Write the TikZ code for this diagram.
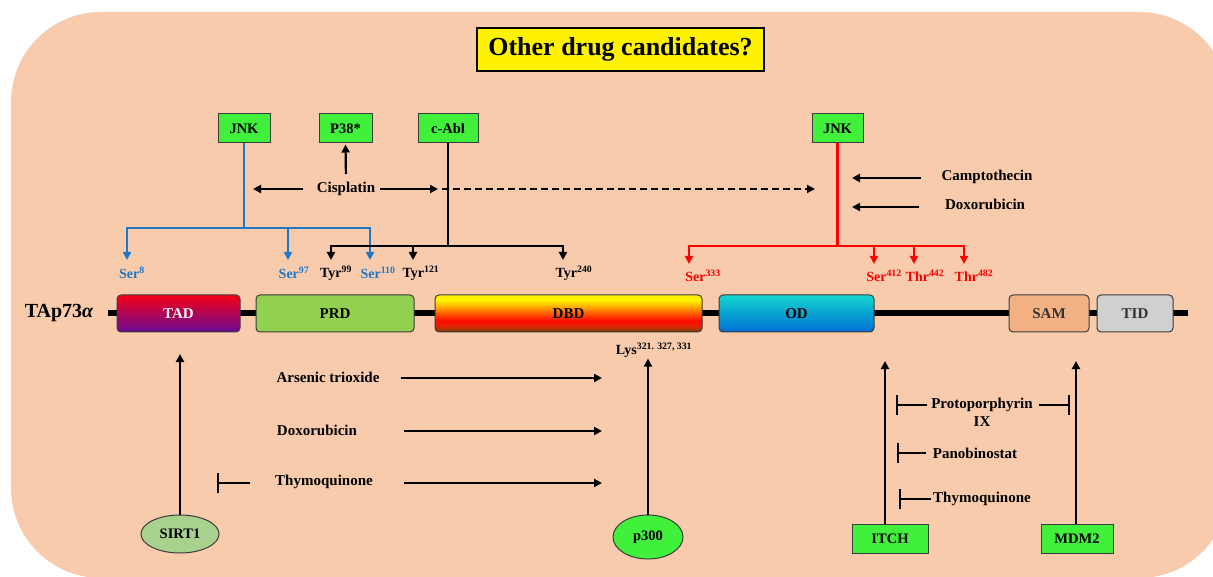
\documentclass[tikz,border=0pt]{standalone}
\usepackage{fontspec}
\setmainfont{Liberation Serif}
\usepackage{tikz}
\usetikzlibrary{arrows.meta, positioning, shapes.geometric}
\usepackage{xcolor}
\definecolor{Peach}{RGB}{248,203,173}
\definecolor{KinaseGreen}{RGB}{64,240,58}
\definecolor{SirtGreen}{RGB}{169,209,142}
\definecolor{PrdGreen}{RGB}{146,208,80}
\definecolor{SamOrange}{RGB}{244,177,131}
\definecolor{TidGray}{RGB}{208,208,208}
\definecolor{JnkBlue}{RGB}{30,120,200}
\definecolor{JnkRed}{RGB}{255,0,0}
\definecolor{BoxEdge}{RGB}{60,60,60}
\definecolor{TadTop}{RGB}{245,0,20}
\definecolor{TadMid}{RGB}{205,0,85}
\definecolor{TadBottom}{RGB}{105,10,150}
\definecolor{OdTop}{RGB}{18,214,205}
\definecolor{OdBottom}{RGB}{0,110,215}
\definecolor{DbdBrown}{RGB}{80,40,0}
\definecolor{DbdDark}{RGB}{160,60,0}
\definecolor{DbdDeep}{RGB}{225,35,0}
\definecolor{DbdRed}{RGB}{255,10,0}
\definecolor{DbdOrange}{RGB}{255,70,0}
\definecolor{DbdAmber}{RGB}{255,160,0}
\definecolor{DbdYellow}{RGB}{255,242,0}
\pgfdeclareverticalshading{dbd_shade}{100bp}{%
  color(0bp)=(DbdBrown); color(25bp)=(DbdBrown); color(28bp)=(DbdDark);%
  color(33bp)=(DbdDeep); color(40bp)=(DbdRed); color(48bp)=(DbdOrange);%
  color(58bp)=(DbdAmber); color(68bp)=(DbdYellow); color(100bp)=(DbdYellow)}
\tikzset{%
  domain_block/.style={%
    rectangle,%
    rounded corners=4pt,%
    draw=BoxEdge,%
    line width=1pt,%
    minimum height=37pt,%
    inner sep=0pt,%
    font={\fontsize{15}{17}\selectfont\bfseries},%
    align=center%
  },
  kinase_block/.style={%
    rectangle,%
    draw=BoxEdge,%
    fill=KinaseGreen,%
    line width=1pt,%
    minimum height=29pt,%
    inner sep=0pt,%
    font={\fontsize{14.5}{16}\selectfont\bfseries},%
  },
  enzyme_oval/.style={%
    ellipse,%
    draw=BoxEdge,%
    line width=1pt,%
    inner sep=0pt,%
    font={\fontsize{14.5}{16}\selectfont\bfseries},%
  },
  drug_label/.style={%
    inner sep=2pt,%
    font={\fontsize{15}{17}\selectfont\bfseries},%
  },
  site_label/.style={%
    inner sep=1pt,%
    font={\fontsize{14}{16}\selectfont\bfseries},%
  },
  signal_path/.style={%
    color=black,%
    line width=2.2pt,%
    line join=round,%
  },
  branch_path/.style={%
    line width=2.3pt,%
    line join=miter,%
  },
  arrow/.style={-{Triangle[length=8pt, width=8pt]}},
  inhibit/.style={-{Bar[width=20pt, line width=2.2pt]}},
}
\begin{document}
\begin{tikzpicture}[x=1pt, y=-1pt]
  \useasboundingbox (0,0) rectangle (1213,577);
  \begin{scope}
    \clip (0,0) rectangle (1213,577);
    \fill [Peach, rounded corners=90pt] (11,12) rectangle (1229,578);
  \end{scope}

  % title
  \node [draw, fill=yellow, line width=1.5pt, minimum width=287pt, minimum height=43pt,
    font={\fontsize{26}{28}\selectfont\bfseries}] (Title) at (620.5,49.5) {Other drug candidates?};

  % protein
  \coordinate (chain_start) at (108,313);
  \coordinate (chain_end) at (1188,313);
  \draw [line width=6pt] (chain_start) -- (chain_end);
  \node [font={\fontsize{20}{22}\selectfont\bfseries}] (Protein) at (59,313) {TAp73{\itshape α}};
  \node [domain_block, minimum width=123pt, top color=TadTop, middle color=TadMid, bottom color=TadBottom,
    text=white!92!pink] (TAD) at (178.5,313.5) {TAD};
  \node [domain_block, minimum width=158pt, fill=PrdGreen] (PRD) at (335,313.5) {PRD};
  \node [domain_block, minimum width=267pt, shading=dbd_shade] (DBD) at (568.5,313.5) {DBD};
  \node [domain_block, minimum width=155pt, top color=OdTop, bottom color=OdBottom] (OD) at (796.5,313.5) {OD};
  \node [domain_block, minimum width=80pt, fill=SamOrange, text=black!80] (SAM) at (1049,313.5) {SAM};
  \node [domain_block, minimum width=76pt, fill=TidGray, text=black!80] (TID) at (1135,313.5) {TID};

  % kinases
  \node [kinase_block, minimum width=52pt] (JNK1) at (244,128.5) {JNK};
  \node [kinase_block, minimum width=53pt] (P38) at (345.5,128.5) {P38*};
  \node [kinase_block, minimum width=60pt] (cAbl) at (448,128.5) {c-Abl};
  \node [kinase_block, minimum width=51pt] (JNK2) at (837.5,128.5) {JNK};
  \node [kinase_block, minimum width=76pt] (ITCH) at (890,538.5) {ITCH};
  \node [kinase_block, minimum width=72pt] (MDM2) at (1077,538.5) {MDM2};
  \node [enzyme_oval, fill=SirtGreen, minimum width=78pt, minimum height=38pt] (SIRT1) at (180,534) {SIRT1};
  \node [enzyme_oval, fill=KinaseGreen, minimum width=70pt, minimum height=44pt] (p300) at (648,537) {p300};

  % phosphosites
  \node [site_label, text=JnkBlue] (Ser8) at (132,273) {Ser\textsuperscript{8}};
  \node [site_label, text=JnkBlue] (Ser97) at (294,273) {Ser\textsuperscript{97}};
  \node [site_label] (Tyr99) at (336,273) {Tyr\textsuperscript{99}};
  \node [site_label, text=JnkBlue] (Ser110) at (378,273) {Ser\textsuperscript{110}};
  \node [site_label] (Tyr121) at (421,273) {Tyr\textsuperscript{121}};
  \node [site_label] (Tyr240) at (574,273) {Tyr\textsuperscript{240}};
  \node [site_label, text=JnkRed] (Ser333) at (703,276) {Ser\textsuperscript{333}};
  \node [site_label, text=JnkRed] (Ser412) at (884,276) {Ser\textsuperscript{412}};
  \node [site_label, text=JnkRed] (Thr442) at (925,276) {Thr\textsuperscript{442}};
  \node [site_label, text=JnkRed] (Thr482) at (974,276) {Thr\textsuperscript{482}};
  \node [site_label] (Lys) at (654,350) {Lys\textsuperscript{321. 327, 331}};

  % drugs
  \node [drug_label] (Cisplatin) at (346,189) {Cisplatin};
  \node [drug_label] (Campto) at (987,177) {Camptothecin};
  \node [drug_label] (Doxo2) at (985,204) {Doxorubicin};
  \node [drug_label] (Arsenic) at (328,377) {Arsenic trioxide};
  \node [drug_label] (Doxo1) at (317,430) {Doxorubicin};
  \node [drug_label] (Thymo1) at (324,482) {Thymoquinone};
  \node [drug_label] (Proto) at (982,405) {Protoporphyrin};
  \node [drug_label, below=0pt of Proto] (ProtoIX) {IX};
  \node [drug_label] (Pano) at (975,453) {Panobinostat};
  \node [drug_label] (Thymo2) at (982,499) {Thymoquinone};

  % branch points and arrow tips
  \coordinate (jnk1_fork) at (244,228);
  \coordinate (ser8_tip) at (127,260);
  \coordinate (ser97_tip) at (288,260);
  \coordinate (ser110_tip) at (370,260);
  \coordinate (cabl_fork) at (448,246);
  \coordinate (tyr99_tip) at (331,260);
  \coordinate (tyr121_tip) at (413,260);
  \coordinate (tyr240_tip) at (563,260);
  \coordinate (jnk2_fork) at (837.5,246);
  \coordinate (ser333_tip) at (689,264);
  \coordinate (ser412_tip) at (874,264);
  \coordinate (thr442_tip) at (914,264);
  \coordinate (thr482_tip) at (964,264);
  \coordinate (cis_left_tip) at (253,189);
  \coordinate (cis_right_tip) at (438,189);
  \coordinate (dash_tip) at (815,189);
  \coordinate (campto_tip) at (852,178);
  \coordinate (doxo2_tip) at (852,207);
  \coordinate (arsenic_tip) at (602,378);
  \coordinate (doxo1_tip) at (602,431);
  \coordinate (thymo1_tip) at (602,483);
  \coordinate (thymo1_bar) at (217,483);
  \coordinate (sirt_tip) at (180,354);
  \coordinate (itch_tip) at (885,361);
  \coordinate (mdm2_tip) at (1076,361);
  \coordinate (proto_left_bar) at (896,405);
  \coordinate (proto_right_bar) at (1070,405);
  \coordinate (pano_bar) at (897,453);
  \coordinate (thymo2_bar) at (899,499);

  % JNK (blue)
  \draw [branch_path, JnkBlue]
    (JNK1.south)
    --
    (jnk1_fork);
  \draw [branch_path, JnkBlue, arrow] (jnk1_fork) -| (ser8_tip);
  \draw [branch_path, JnkBlue, arrow] (jnk1_fork) -| (ser97_tip);
  \draw [branch_path, JnkBlue, arrow] (jnk1_fork) -| (ser110_tip);

  % c-Abl
  \draw [branch_path]
    (cAbl.south)
    --
    (cabl_fork);
  \draw [branch_path, arrow] (cabl_fork) -| (tyr99_tip);
  \draw [branch_path, arrow] (cabl_fork) -| (tyr121_tip);
  \draw [branch_path, arrow] (cabl_fork) -| (tyr240_tip);

  % JNK (red)
  \draw [branch_path, JnkRed]
    (JNK2.south)
    --
    (jnk2_fork);
  \draw [branch_path, JnkRed, arrow] (jnk2_fork) -| (ser333_tip);
  \draw [branch_path, JnkRed, arrow] (jnk2_fork) -| (ser412_tip);
  \draw [branch_path, JnkRed, arrow] (jnk2_fork) -| (thr442_tip);
  \draw [branch_path, JnkRed, arrow] (jnk2_fork) -| (thr482_tip);

  % cisplatin
  \draw [signal_path, arrow, shorten <=6pt, shorten >=1pt]
    (Cisplatin.north)
    --
    (P38.south);
  \draw [signal_path, arrow, shorten <=12pt] (cis_left_tip -| Cisplatin.west) -- (cis_left_tip);
  \draw [signal_path, arrow, shorten <=3pt] (cis_right_tip -| Cisplatin.east) -- (cis_right_tip);
  \draw [signal_path, arrow, line width=1.7pt, dash pattern=on 7pt off 4pt, shorten <=4pt]
    (cis_right_tip)
    --
    (dash_tip);

  \draw [signal_path, arrow, shorten <=18pt] (campto_tip -| Campto.west) -- (campto_tip);
  \draw [signal_path, arrow, shorten <=24pt] (doxo2_tip -| Doxo2.west) -- (doxo2_tip);

  % drugs acting on the DBD
  \draw [signal_path, arrow, shorten <=19pt] (arsenic_tip -| Arsenic.east) -- (arsenic_tip);
  \draw [signal_path, arrow, shorten <=45pt] (doxo1_tip -| Doxo1.east) -- (doxo1_tip);
  \draw [signal_path, arrow, shorten <=29pt] (thymo1_tip -| Thymo1.east) -- (thymo1_tip);
  \draw [signal_path, inhibit, shorten <=23pt] (thymo1_bar -| Thymo1.west) -- (thymo1_bar);

  % acetylation
  \draw [signal_path, arrow] (SIRT1.north) -- (sirt_tip);
  \draw [signal_path, arrow]
    (p300.north)
    --
    (p300.north |- Lys.south);

  % ubiquitin ligases
  \draw [signal_path, arrow] (ITCH.north -| itch_tip) -- (itch_tip);
  \draw [signal_path, arrow] (MDM2.north -| mdm2_tip) -- (mdm2_tip);
  \draw [signal_path, inhibit, shorten <=2pt] (Proto.west) -- (proto_left_bar);
  \draw [signal_path, inhibit, shorten <=4pt] (Proto.east) -- (proto_right_bar);
  \draw [signal_path, inhibit, shorten <=5pt] (pano_bar -| Pano.west) -- (pano_bar);
  \draw [signal_path, inhibit] (thymo2_bar -| Thymo2.west) -- (thymo2_bar);
\end{tikzpicture}
\end{document}
